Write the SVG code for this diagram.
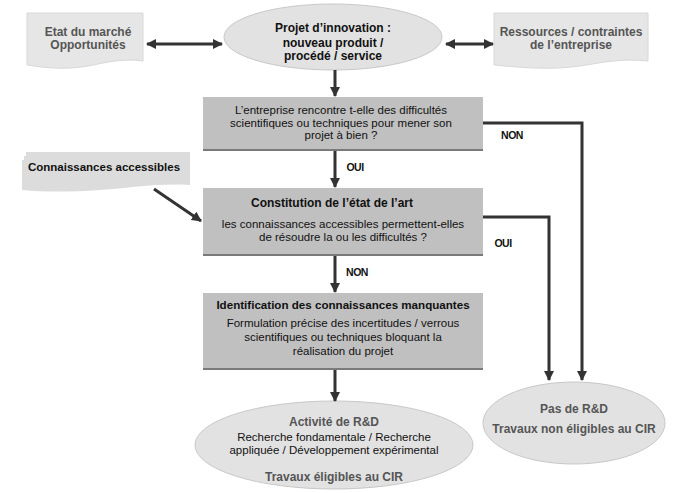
<svg xmlns="http://www.w3.org/2000/svg" width="692" height="493" viewBox="0 0 692 493">
<style>
text{font-family:"Liberation Sans",Arial,sans-serif;text-anchor:middle}
.doc{fill:#e6e6e6;stroke:#d8d8d8;stroke-width:1}
.ell{fill:#e2e2e2;stroke:#c8c8c8;stroke-width:1}
.box{fill:#c0c0c0}
.shadow{fill:#7a7a7a}
.gt{fill:#555;font-weight:bold;font-size:12px}
.bt{fill:#111;font-weight:bold;font-size:12px}
.nt{fill:#111;font-size:11.5px}
.lab{fill:#111;font-weight:bold;font-size:10.5px;letter-spacing:-0.5px}
.con{stroke:#333;stroke-width:3;fill:none}
</style>
<defs>
<marker id="ah" viewBox="0 0 10 10" refX="9" refY="5" markerWidth="3.4" markerHeight="3.4" orient="auto-start-reverse" markerUnits="strokeWidth">
<path d="M0,0 L10,5 L0,10 Z" fill="#333"/>
</marker>
</defs>
<g id="etat">
<path class="doc" d="M27,13 H143 V61 C122,58 104,63 88,66 C66,70 46,68 27,65 Z"/>
<text class="gt" x="88" y="36">Etat du marché</text>
<text class="gt" x="88" y="49">Opportunités</text>
</g>
<g id="projet">
<ellipse class="ell" cx="333" cy="37" rx="109" ry="33"/>
<text class="bt" x="333" y="32">Projet d’innovation :</text>
<text class="bt" x="333" y="47">nouveau produit /</text>
<text class="bt" x="333" y="60">procédé / service</text>
</g>
<g id="ressources">
<path class="doc" d="M494,13 H648 V61 C620,58 600,63 580,66 C552,70 525,68 494,65 Z"/>
<text class="gt" x="571" y="36">Ressources / contraintes</text>
<text class="gt" x="571" y="49">de l’entreprise</text>
</g>
<g id="q1">
<rect class="shadow" x="203" y="97" width="280" height="54"/>
<rect class="box" x="203" y="97" width="280" height="52"/>
<text class="nt" x="341" y="114">L’entreprise rencontre t-elle des difficultés</text>
<text class="nt" x="341" y="127">scientifiques ou techniques pour mener son</text>
<text class="nt" x="341" y="139">projet à bien ?</text>
</g>
<g id="connaissances">
<path d="M26,152 H190 V185 C160,183 130,188 100,190 C70,192 45,192 22,190 V160 H24 V156 H26 Z" fill="#dcdcdc"/>
<text x="104" y="171" style="fill:#111;font-size:11.5px;font-weight:bold">Connaissances accessibles</text>
</g>
<g id="q2">
<rect class="shadow" x="203" y="188" width="280" height="68"/>
<rect class="box" x="203" y="188" width="280" height="66"/>
<text class="bt" x="332" y="207">Constitution de l’état de l’art</text>
<text class="nt" x="343" y="228">les connaissances accessibles permettent-elles</text>
<text class="nt" x="343" y="241">de résoudre la ou les difficultés ?</text>
</g>
<g id="ident">
<rect class="shadow" x="203" y="293" width="280" height="77"/>
<rect class="box" x="203" y="293" width="280" height="75"/>
<text class="bt" x="343" y="309" style="font-size:11.6px">Identification des connaissances manquantes</text>
<text class="nt" x="343" y="327">Formulation précise des incertitudes / verrous</text>
<text class="nt" x="343" y="341">scientifiques ou techniques bloquant la</text>
<text class="nt" x="343" y="355">réalisation du projet</text>
</g>
<g id="rd">
<ellipse class="ell" cx="334" cy="445" rx="139" ry="44"/>
<text class="gt" x="334" y="426">Activité de R&amp;D</text>
<text class="nt" x="334" y="441">Recherche fondamentale / Recherche</text>
<text class="nt" x="334" y="454">appliquée / Développement expérimental</text>
<text class="gt" x="334" y="481">Travaux éligibles au CIR</text>
</g>
<g id="nord">
<ellipse class="ell" cx="574" cy="423" rx="91" ry="41"/>
<text class="gt" x="574" y="413">Pas de R&amp;D</text>
<text class="gt" x="574" y="433">Travaux non éligibles au CIR</text>
</g>
<g id="connectors">
<line class="con" x1="147" y1="44" x2="222" y2="44" marker-start="url(#ah)" marker-end="url(#ah)"/>
<line class="con" x1="446" y1="44" x2="493" y2="44" marker-start="url(#ah)" marker-end="url(#ah)"/>
<line class="con" x1="335" y1="70" x2="335" y2="96" marker-end="url(#ah)"/>
<line class="con" x1="335" y1="151" x2="335" y2="187" marker-end="url(#ah)"/>
<line class="con" x1="335" y1="256" x2="335" y2="292" marker-end="url(#ah)"/>
<line class="con" x1="335" y1="370" x2="335" y2="401" marker-end="url(#ah)"/>
<line class="con" x1="154" y1="189" x2="201" y2="221" marker-end="url(#ah)"/>
<polyline class="con" points="483,123 582,123 582,380" marker-end="url(#ah)"/>
<polyline class="con" points="483,217 549,217 549,380" marker-end="url(#ah)"/>
<text class="lab" x="355" y="171">OUI</text>
<text class="lab" x="357" y="276">NON</text>
<text class="lab" x="512" y="139">NON</text>
<text class="lab" x="503" y="247">OUI</text>
</g>
</svg>
